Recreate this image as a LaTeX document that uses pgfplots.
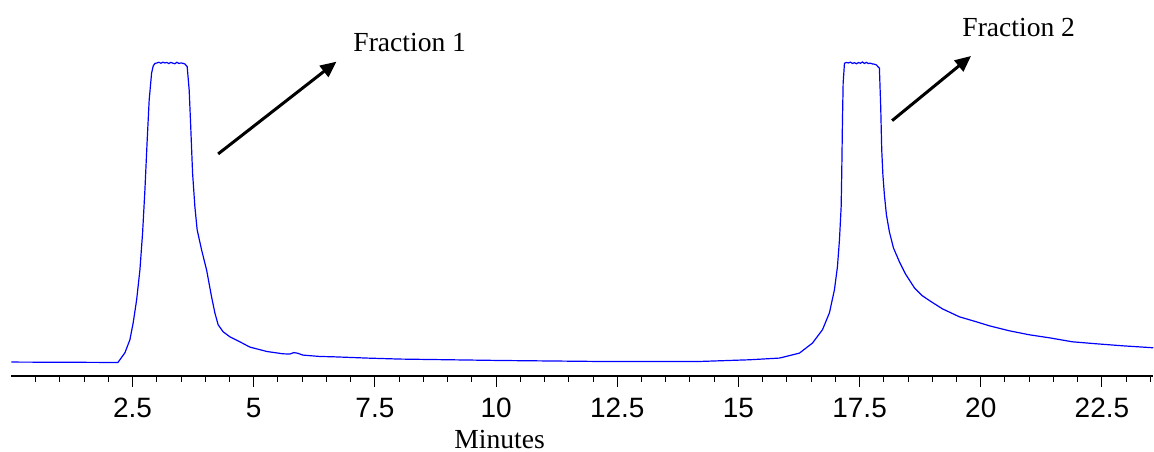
\documentclass[border=0pt]{standalone}
\usepackage{fontspec}
\setmainfont{Liberation Serif}
\setsansfont{Liberation Sans}
\usepackage{pgfplots}
\pgfplotsset{compat=1.18}
\usetikzlibrary{arrows.meta}

% chromatogram trace, y = height above the axis line (arbitrary units)
\pgfplotstableread{
t      v
0.000  13.7
1.146  13.5
2.198  13.3
2.342  23
2.445  36
2.513  53
2.584  76
2.652  106
2.707  143
2.755  186
2.802  236
2.843  276
2.893  303
2.926  310
2.961  312.5
3.002  313
3.043  313.7
3.085  312.7
3.126  313.8
3.167  313
3.208  313.5
3.249  312.4
3.291  313.6
3.332  312.8
3.373  312.2
3.414  313.7
3.456  312.5
3.497  313
3.538  312.7
3.579  312
3.627  309.3
3.668  286
3.697  253
3.738  203
3.786  169
3.833  146
3.924  126
4.027  106
4.130  79
4.198  63
4.266  51
4.369  44
4.507  39
4.713  34
4.920  28.7
5.270  24.3
5.600  22
5.744  21.7
5.827  23.2
5.909  22.5
6.012  20.7
6.363  19.3
6.631  19
7.332  17.7
8.012  16.7
10.074 15.3
12.136 14.3
14.198 14.3
15.229 16
15.847 17.7
16.260 22.7
16.528 32.7
16.734 46
16.878 63
16.981 86
17.043 109
17.085 136
17.120 169.3
17.132 203
17.146 253
17.161 293
17.188 312.7
17.229 313.5
17.270 313
17.311 313.8
17.353 312.5
17.394 313.3
17.435 312.2
17.476 313.4
17.518 312.7
17.559 314
17.600 312.5
17.641 313.6
17.683 312.4
17.724 312.8
17.765 312
17.806 311.8
17.847 311
17.909 307.7
17.936 269
17.957 226
17.981 201
18.012 181
18.054 161
18.115 144
18.198 128
18.322 114
18.445 102
18.631 88
18.796 80
18.981 74
19.208 67
19.559 59
19.909 54
20.177 50
20.590 45
21.002 41
21.414 38
21.889 34
22.384 32
22.920 30
23.559 28
}\trace

\begin{document}
\begin{tikzpicture}
\begin{axis}[
    scale only axis,
    width=571.3pt, height=188pt,
    xmin=0, xmax=23.559,
    ymin=0, ymax=376,
    axis x line*=bottom,
    axis y line=none,
    clip=false,
    axis line style={line width=0.75pt},
    xtick={2.5,5,...,22.5},
    xticklabels={2.5,5,7.5,10,12.5,15,17.5,20,22.5},
    minor xtick={0.5,1,...,23.5},
    tick align=outside,
    major tick length=5.5pt,
    minor tick length=3pt,
    tick style={black, line width=0.5pt},
    /pgf/number format/assume math mode=true,
    xticklabel style={font=\sffamily\fontsize{14}{16}\selectfont, inner sep=0pt, anchor=base, yshift=-15.5pt},
    xlabel={Minutes},
    xlabel style={font=\fontsize{13.8}{16}\selectfont, inner sep=0pt, anchor=base,
        at={(axis description cs:0.4276,-0.1941)}},
]
\addplot[blue, line width=0.6pt] table[x=t, y=v] {\trace};

\draw[line width=1.5pt, -{Triangle[length=8pt, width=7pt]}] (axis cs:4.266,222) -- (axis cs:6.707,314.3);
\node[font=\fontsize{13.8}{16}\selectfont, anchor=base west, inner sep=0pt] at (axis cs:7.049,324.3) {Fraction 1};
\draw[line width=1.5pt, -{Triangle[length=8pt, width=7pt]}] (axis cs:18.171,255.3) -- (axis cs:19.800,320);
\node[font=\fontsize{13.8}{16}\selectfont, anchor=base west, inner sep=0pt] at (axis cs:19.614,339.3) {Fraction 2};

\path (axis cs:-0.235,-76) (axis cs:23.559,376);
\end{axis}
\end{tikzpicture}
\end{document}
